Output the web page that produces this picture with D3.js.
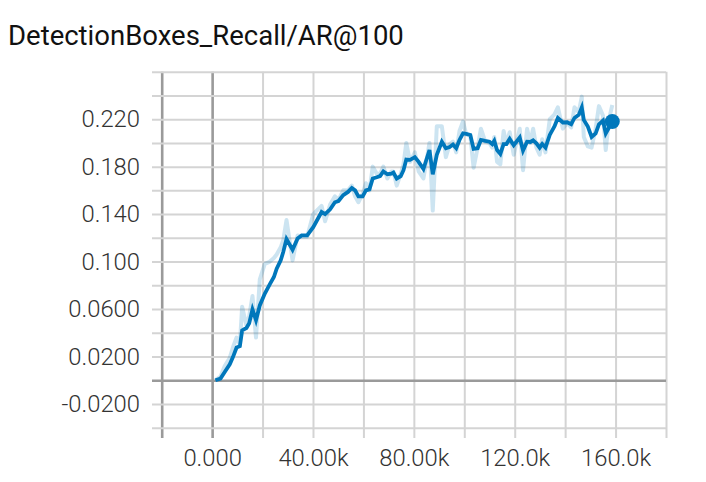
<!DOCTYPE html>
<html>
<head>
<meta charset="utf-8">
<script src="https://cdn.jsdelivr.net/npm/d3@7"></script>
<style>
  html, body { margin: 0; padding: 0; background: #fff; }
  svg { display: block; }
  .tick text { font-family: Roboto, "Noto Sans", sans-serif; font-weight: 300; fill: #333; }
</style>
</head>
<body>
<svg id="chart" width="706" height="482"></svg>
<script>
const title = "DetectionBoxes_Recall/AR@100";

// steps in thousands
const steps = [1.3,3.3,5,7,8.3,9.7,11,11.9,13.6,14.7,16,17.4,18.9,20.9,22.9,24.5,25.6,27.2,28.2,29.5,31.9,33.9,35.5,37.7,40.1,43.4,44.8,46.8,48.7,50.1,52,53.9,55.4,56.7,58,59.7,61,62.4,63.7,65.3,66.6,67.9,69.5,71.1,71.9,73.2,74.8,75.9,77,78.5,80.4,81.9,83.8,86.2,87.5,89.1,91.1,92.7,94.2,95.5,96.8,98.1,99.5,100.8,102.4,103.7,105.3,106.6,108.3,110,111.1,111.9,113,114.3,115.6,116.7,118,119.6,122,123.3,124.9,126.2,127.3,128.6,129.9,130.9,132.2,133.9,135.8,137.1,139.1,140.8,142.4,143.7,145.4,146.6,147.4,149,150.5,152.1,153.4,155,156.1,157.4,158.7];

const smoothed = [0.000,0.0014,0.007,0.0135,0.0197,0.0276,0.0287,0.042,0.044,0.048,0.0596,0.0506,0.063,0.073,0.081,0.087,0.094,0.101,0.108,0.119,0.110,0.1195,0.122,0.122,0.129,0.1418,0.140,0.144,0.150,0.151,0.156,0.1587,0.162,0.160,0.155,0.155,0.160,0.161,0.170,0.171,0.172,0.176,0.1736,0.174,0.175,0.170,0.172,0.177,0.186,0.1857,0.188,0.184,0.178,0.194,0.1735,0.190,0.201,0.1955,0.1966,0.1986,0.1955,0.2025,0.208,0.2076,0.2067,0.195,0.1955,0.2025,0.2017,0.201,0.199,0.2017,0.194,0.1907,0.199,0.199,0.2034,0.198,0.2045,0.1935,0.201,0.2008,0.2022,0.1997,0.196,0.199,0.196,0.2067,0.214,0.221,0.2172,0.2174,0.2157,0.221,0.2236,0.2298,0.2194,0.2138,0.205,0.208,0.2157,0.2188,0.208,0.213,0.218];

const raw = [0.000,0.003,0.012,0.019,0.028,0.036,0.030,0.062,0.046,0.054,0.071,0.036,0.085,0.098,0.100,0.103,0.106,0.112,0.118,0.135,0.101,0.122,0.121,0.121,0.140,0.147,0.134,0.148,0.155,0.152,0.160,0.160,0.164,0.155,0.150,0.157,0.166,0.160,0.180,0.174,0.174,0.180,0.170,0.176,0.176,0.164,0.174,0.182,0.200,0.184,0.192,0.176,0.170,0.200,0.143,0.214,0.214,0.188,0.199,0.201,0.192,0.210,0.218,0.207,0.206,0.179,0.196,0.212,0.201,0.200,0.196,0.205,0.184,0.182,0.210,0.199,0.209,0.190,0.212,0.177,0.212,0.200,0.212,0.196,0.190,0.203,0.192,0.220,0.224,0.230,0.212,0.217,0.213,0.230,0.226,0.239,0.205,0.197,0.196,0.212,0.231,0.223,0.194,0.220,0.232];

const yGrid = [-0.04,-0.02,0,0.02,0.04,0.06,0.08,0.10,0.12,0.14,0.16,0.18,0.20,0.22,0.24,0.26];
const yLabelValues = [-0.02,0.02,0.06,0.10,0.14,0.18,0.22];
const yLabels = ["-0.0200","0.0200","0.0600","0.100","0.140","0.180","0.220"];
const xGrid = [-20,0,20,40,60,80,100,120,140,160,180];
const xLabelValues = [0,40,80,120,160];
const xLabels = ["0.000","40.00k","80.00k","120.0k","160.0k"];

(function () {
const svg = d3.select("#chart");
const pLeft = 161.7, pRight = 666, pTop = 71.7, pBottom = 427.7;
const x = d3.scaleLinear().domain([-20, 180]).range([pLeft, pRight]);
const y = d3.scaleLinear().domain([-0.04, 0.26]).range([pBottom, pTop]);

svg.append("text")
  .attr("x", 8).attr("y", 45)
  .attr("font-family", "Roboto, 'Noto Sans', sans-serif")
  .attr("font-size", 27.5)
  .attr("fill", "#111")
  .text(title);

const near = (a, b) => Math.abs(a - b) < 1e-9;

// Y grid + labels
const yAxis = d3.axisLeft(y)
  .tickValues(yGrid)
  .tickSize(pRight - 152)
  .tickPadding(12)
  .tickFormat(d => {
    const i = yLabelValues.findIndex(v => near(v, d));
    return i >= 0 ? yLabels[i] : "";
  });
const gy = svg.append("g").attr("transform", `translate(${pRight},0)`).call(yAxis);
gy.select(".domain").remove();
gy.selectAll(".tick line")
  .attr("stroke", d => near(d, 0) ? "#9a9a9a" : "#d4d4d4")
  .attr("stroke-width", d => near(d, 0) ? 2.6 : 2);
gy.selectAll(".tick text").attr("font-size", 23.8);

// X grid + labels
const xAxis = d3.axisBottom(x)
  .tickValues(xGrid)
  .tickSize(438 - pTop)
  .tickPadding(11)
  .tickFormat(d => {
    const i = xLabelValues.indexOf(d);
    return i >= 0 ? xLabels[i] : "";
  });
const gx = svg.append("g").attr("transform", `translate(0,${pTop})`).call(xAxis);
gx.select(".domain").remove();
gx.selectAll(".tick line")
  .attr("stroke", d => (d === 0 || d === -20) ? "#9a9a9a" : "#d4d4d4")
  .attr("stroke-width", d => (d === 0 || d === -20) ? 2.6 : 2);
gx.selectAll(".tick text").attr("font-size", 23.8);

// zero horizontal line above the light grid
const zeroTick = gy.selectAll(".tick").filter(d => near(d, 0));
gy.raise();
zeroTick.raise();

const data = steps.map((s, i) => ({ s, r: raw[i], m: smoothed[i] }));

svg.append("path")
  .datum(data)
  .attr("fill", "none")
  .attr("stroke", "#0077bb")
  .attr("stroke-opacity", 0.2)
  .attr("stroke-width", 4)
  .attr("stroke-linejoin", "round")
  .attr("d", d3.line().x(d => x(d.s)).y(d => y(d.r)));

svg.append("path")
  .datum(data)
  .attr("fill", "none")
  .attr("stroke", "#0077bb")
  .attr("stroke-width", 3.8)
  .attr("stroke-linejoin", "miter")
  .attr("d", d3.line().x(d => x(d.s)).y(d => y(d.m)));

const last = data[data.length - 1];
svg.append("circle")
  .attr("cx", x(last.s)).attr("cy", y(last.m))
  .attr("r", 7.5)
  .attr("fill", "#0077bb");
})();
</script>
</body>
</html>
